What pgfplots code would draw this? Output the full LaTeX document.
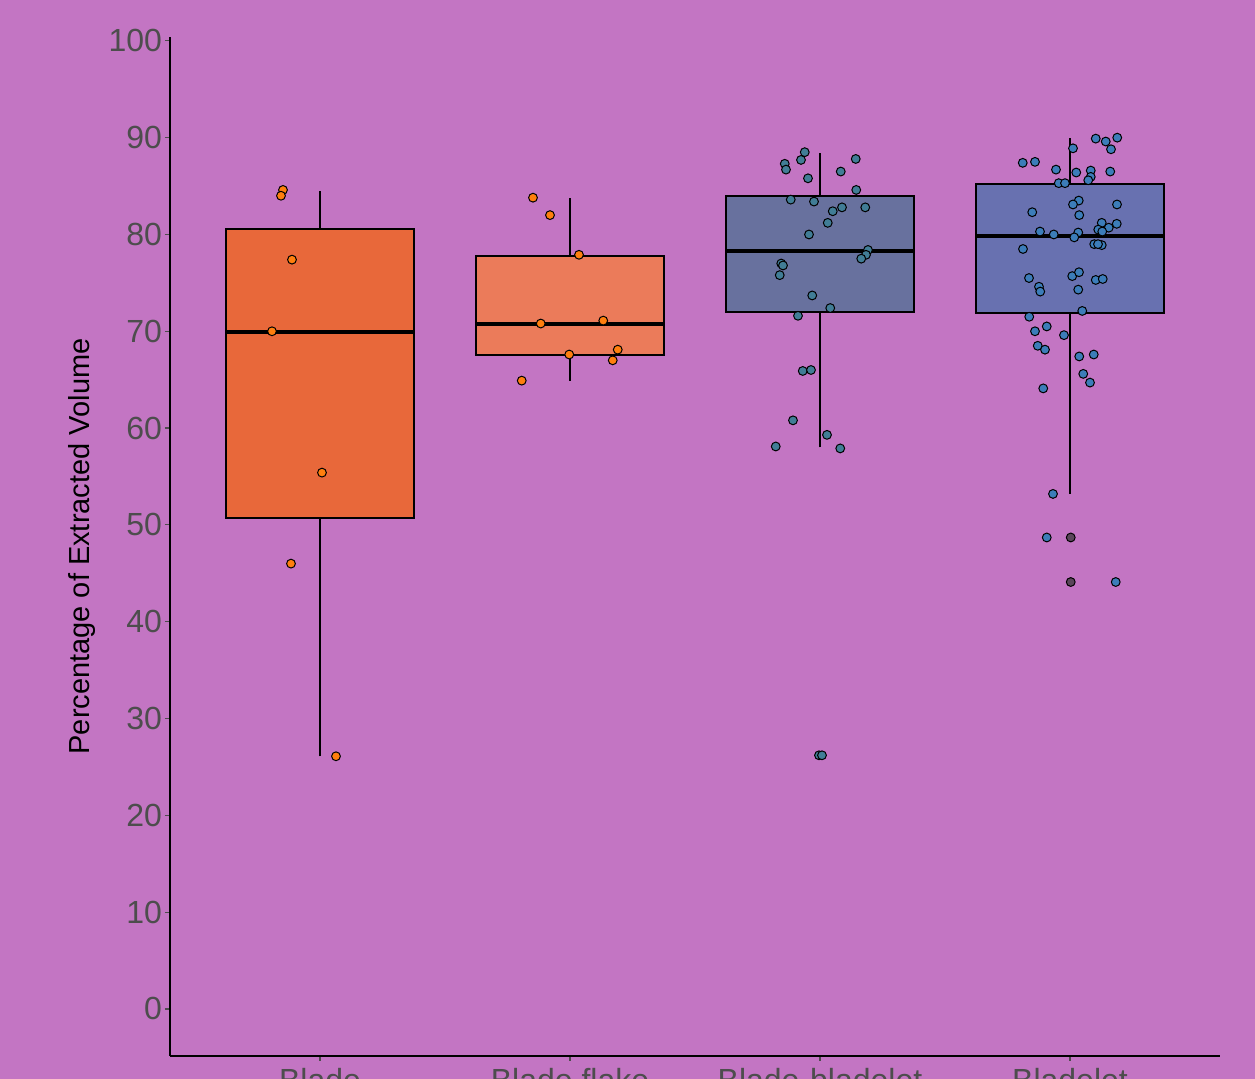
\documentclass[border=0pt]{standalone}
\usepackage{fontspec}
\setmainfont{Liberation Sans}
\usepackage{pgfplots}
\pgfplotsset{compat=1.18}
\definecolor{bg}{RGB}{195,117,195}
\definecolor{cBlade}{RGB}{232,104,58}
\definecolor{cFlake}{RGB}{235,123,90}
\definecolor{cBB}{RGB}{104,113,158}
\definecolor{cBlt}{RGB}{104,113,176}
\definecolor{pOr}{RGB}{255,127,14}
\definecolor{pBB}{RGB}{65,125,150}
\definecolor{pBlt}{RGB}{60,125,185}
\definecolor{pDk}{RGB}{90,70,90}
\definecolor{tickgray}{RGB}{77,77,77}
\begin{document}
\begin{tikzpicture}
\fill[bg] (-85pt,-11.5pt) rectangle (542.5pt,528pt);
\clip (-85pt,-11.5pt) rectangle (542.5pt,528pt);
\begin{axis}[
  at={(0,0)}, anchor=south west,
  scale only axis, width=525pt, height=509.5pt,
  xmin=0.4, xmax=4.6, ymin=-4.86, ymax=100.4,
  axis x line*=bottom, axis y line*=left,
  axis line style={black, line width=0.8pt, -},
  xtick={1,2,3,4},
  xticklabels={Blade, Blade flake, Blade-bladelet, Bladelet},
  ytick={0,10,...,100},
  tick align=outside, major tick length=2.5pt,
  tick style={tickgray, line width=0.6pt},
  ticklabel style={font=\fontsize{16}{19}\selectfont, text=tickgray},
  yticklabel style={xshift=2pt},
  /pgf/number format/assume math mode=true,
  every axis y label/.style={at={(axis description cs:0,0.5)}, anchor=center, xshift=-44pt, rotate=90},
  ylabel={\fontsize{14.5}{17}\selectfont Percentage of Extracted Volume},
  box/.style={draw=black, line width=1pt},
  whisk/.style={black, line width=1pt},
  med/.style={black, line width=2pt},
]
% Blade
\addplot[whisk] coordinates {(1,26.1) (1,50.7)};
\addplot[whisk] coordinates {(1,80.6) (1,84.5)};
\addplot[box, fill=cBlade] coordinates {(0.625,50.7) (1.375,50.7) (1.375,80.6) (0.625,80.6)} --cycle;
\addplot[med] coordinates {(0.625,69.9) (1.375,69.9)};
% Blade flake
\addplot[whisk] coordinates {(2,64.9) (2,67.6)};
\addplot[whisk] coordinates {(2,77.8) (2,83.8)};
\addplot[box, fill=cFlake] coordinates {(1.625,67.6) (2.375,67.6) (2.375,77.8) (1.625,77.8)} --cycle;
\addplot[med] coordinates {(1.625,70.8) (2.375,70.8)};
% Blade-bladelet
\addplot[whisk] coordinates {(3,58.0) (3,72.0)};
\addplot[whisk] coordinates {(3,84.0) (3,88.4)};
\addplot[box, fill=cBB] coordinates {(2.625,72.0) (3.375,72.0) (3.375,84.0) (2.625,84.0)} --cycle;
\addplot[med] coordinates {(2.625,78.3) (3.375,78.3)};
% Bladelet
\addplot[whisk] coordinates {(4,53.2) (4,71.9)};
\addplot[whisk] coordinates {(4,85.2) (4,90.0)};
\addplot[box, fill=cBlt] coordinates {(3.625,71.9) (4.375,71.9) (4.375,85.2) (3.625,85.2)} --cycle;
\addplot[med] coordinates {(3.625,79.8) (4.375,79.8)};
% Blade points
\addplot[only marks, mark=*, mark size=2.2pt, mark options={fill=pOr, draw=black, line width=0.5pt}] coordinates {
(0.852,84.6) (0.844,84.0) (0.888,77.4) (0.808,70.0) (1.008,55.4) (0.884,46.0) (1.064,26.1)};
% Blade flake points
\addplot[only marks, mark=*, mark size=2.2pt, mark options={fill=pOr, draw=black, line width=0.5pt}] coordinates {
(1.852,83.8) (1.920,82.0) (2.036,77.9) (1.883,70.8) (2.133,71.1) (2.191,68.1) (2.171,67.0) (1.997,67.6) (1.807,64.9)};
% Blade-bladelet points
\addplot[only marks, mark=*, mark size=2.2pt, mark options={fill=pBB, draw=black, line width=0.5pt}] coordinates {
(2.939,88.5) (2.924,87.7) (2.859,87.3) (2.864,86.7) (3.143,87.8) (3.083,86.5) (2.952,85.8) (3.145,84.6)
(2.883,83.6) (2.976,83.4) (3.051,82.4) (3.088,82.8) (3.181,82.8) (3.031,81.2) (2.956,80.0) (3.192,78.4)
(3.184,77.9) (3.165,77.5) (2.845,77.0) (2.852,76.8) (2.839,75.8) (2.969,73.7) (3.041,72.4) (2.912,71.6)
(2.931,65.9) (2.964,66.0) (2.892,60.8) (3.028,59.3) (2.823,58.1) (3.081,57.9) (2.996,26.2) (3.008,26.2)};
% Bladelet points
\addplot[only marks, mark=*, mark size=2.2pt, mark options={fill=pBlt, draw=black, line width=0.5pt}] coordinates {
(4.189,90.0) (4.103,89.9) (4.143,89.6) (4.164,88.8) (4.012,88.9) (3.811,87.4) (3.860,87.5) (3.944,86.7)
(4.025,86.4) (4.083,86.6) (4.161,86.5) (4.083,85.95) (4.073,85.6) (3.955,85.3) (3.980,85.3) (4.035,83.5)
(4.012,83.1) (4.188,83.1) (3.849,82.3) (4.037,82.0) (4.187,81.1) (4.127,81.2) (4.113,80.5) (4.155,80.7)
(4.129,80.3) (3.880,80.3) (3.935,80.0) (4.033,80.2) (4.017,79.7) (3.812,78.5) (4.097,79.0) (4.127,78.9)
(4.112,79.0) (3.836,75.5) (4.009,75.7) (4.036,76.1) (4.103,75.3) (4.131,75.4) (3.876,74.6) (3.881,74.1)
(4.033,74.3) (4.049,72.1) (3.837,71.5) (3.907,70.5) (3.860,70.0) (3.976,69.6) (3.871,68.5) (3.900,68.1)
(4.037,67.4) (4.095,67.6) (4.053,65.6) (4.080,64.7) (3.893,64.1) (3.932,53.2) (3.907,48.7) (4.183,44.1)};
\addplot[only marks, mark=*, mark size=2.2pt, mark options={fill=pDk, draw=black, line width=0.5pt}] coordinates {
(4.003,48.7) (4.003,44.1)};
\end{axis}
\end{tikzpicture}
\end{document}
